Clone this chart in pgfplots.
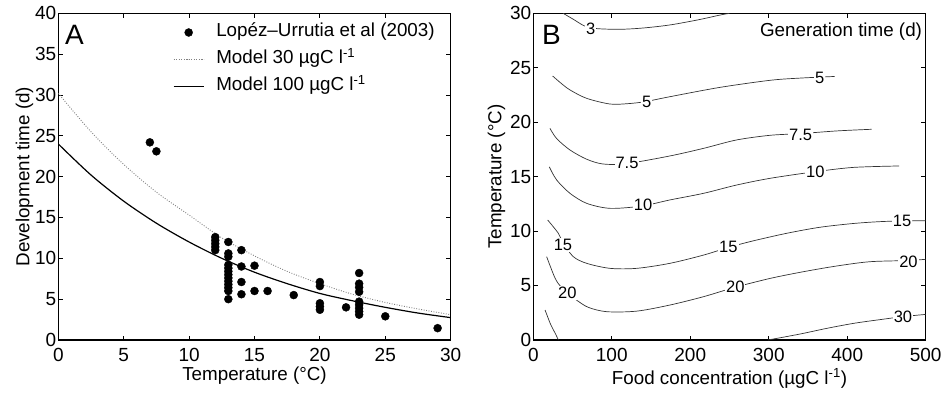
\documentclass[border=0pt]{standalone}
\usepackage{fontspec}
\setmainfont{Liberation Sans}
\usepackage{pgfplots}
\pgfplotsset{compat=1.18}

\pgfplotsset{
  panel/.style={
    scale only axis, width=392.4pt, height=326.7pt, anchor=south west,
    axis line style={line width=1.1pt},
    tick align=inside, major tick length=4.5pt,
    tick style={line width=0.9pt, black},
    /pgf/number format/assume math mode=true,
    every tick label/.append style={font=\fontsize{19}{22}\selectfont},
    yticklabel style={inner sep=0pt, xshift=-1.8pt},
    xticklabel style={inner sep=0pt, yshift=-8.5pt},
    every axis x label/.style={at={(axis description cs:0.5,0)}, anchor=base,
      inner sep=0pt, yshift=-40pt, font=\fontsize{18.8}{22}\selectfont},
    every axis y label/.style={at={(axis description cs:0,0.5)}, rotate=90,
      anchor=base, inner sep=0pt, font=\fontsize{18.8}{22}\selectfont},
  },
  contour/.style={black!80, line width=0.7pt, smooth, tension=0.5, mark=none},
}

\begin{document}
\begin{tikzpicture}
\useasboundingbox (0,0) rectangle (943pt,397pt);

% Panel A: development time against temperature
\begin{axis}[panel, at={(58.3pt,57pt)},
  xmin=0, xmax=30, ymin=0, ymax=40,
  xtick={0,5,...,30}, ytick={0,5,...,40},
  xlabel={Temperature (°C)},
  ylabel={Development time (d)},
  every axis y label/.append style={yshift=29pt},
  legend cell align=left,
  legend image code/.code={\draw[mark repeat=2,mark phase=2,#1]
    plot coordinates {(0pt,0pt) (15pt,0pt) (30pt,0pt)};},
  legend style={draw=none, fill=none, at={(rel axis cs:0.292,0.974)},
    anchor=north west, inner sep=0pt, row sep=6pt,
    font=\fontsize{18.8}{22}\selectfont,
    nodes={inner sep=1pt, text height=14pt, text depth=5pt},
    /tikz/every odd column/.append style={column sep=11pt}},
]
\addplot[only marks, mark=*, mark size=4pt, black] coordinates {
  (7,24.2) (7.5,23.1)
  (12,12.6) (12,12.2) (12,11.8) (12,11.4) (12,11.0)
  (13,12.0) (13,10.6) (13,10.2) (13,9.2) (13,8.8) (13,8.4) (13,8.0)
  (13,7.6) (13,7.2) (13,6.8) (13,6.4) (13,6.0) (13,5.0)
  (14,11.0) (14,9.0) (14,7.1) (14,5.6)
  (15,9.1) (15,6.0)
  (16,6.0)
  (18,5.5)
  (20,7.1) (20,6.6) (20,4.5) (20,4.1) (20,3.7)
  (22,4.0)
  (23,8.2) (23,6.9) (23,6.45) (23,5.9) (23,4.7) (23,4.3) (23,3.9) (23,3.5) (23,3.1)
  (25,2.9)
  (29,1.45)
};
\addlegendentry{Lopéz–Urrutia et al (2003)}
\addplot[gray, line width=0.9pt, dash pattern=on 0.9pt off 1.6pt, smooth] coordinates {
  (0,30.2) (2.5,25.5) (5,21.5) (7.5,18.1) (10,15.3) (12.5,12.5) (15,10.3)
  (17.5,8.4) (20,6.9) (22.5,5.6) (25,4.6) (27.5,3.8) (30,3.1)
};
\addlegendentry{Model 30 µgC l\textsuperscript{-1}}
\addplot[black, line width=1.2pt, smooth] coordinates {
  (0,24.0) (2.5,20.2) (5,17.0) (7.5,14.3) (10,12.0) (12.5,10.0) (15,8.3)
  (17.5,6.9) (20,5.7) (22.5,4.8) (25,4.0) (27.5,3.3) (30,2.74)
};
\addlegendentry{Model 100 µgC l\textsuperscript{-1}}
\node[anchor=north west, inner sep=0pt, font=\fontsize{28}{30}\selectfont]
  at (rel axis cs:0,1) [xshift=6.7pt, yshift=-11.7pt] {A};
\end{axis}

% Panel B: generation time contours over food concentration and temperature
\begin{axis}[panel, at={(533.3pt,57pt)},
  xmin=0, xmax=500, ymin=0, ymax=30,
  xtick={0,100,...,500}, ytick={0,5,...,30},
  xlabel={Food concentration (µgC l\smash{\textsuperscript{-1}})},
  every axis x label/.append style={yshift=-4pt},
  ylabel={Temperature (°C)},
  every axis y label/.append style={yshift=32pt},
  clip=true,
]
% 3 d
\addplot[contour] coordinates {(38,30) (51,29.45) (65,28.85) (80,28.6) (110,28.53)
  (140,28.65) (174,28.93) (210,29.4) (238,29.84) (250,30)};
% 5 d
\addplot[contour] coordinates {(24.7,24.24) (35,23.6) (46.8,22.96) (68,22.19)
  (97.7,21.67) (120,21.7) (142,21.88) (174,22.34) (238,23.2) (302,23.85)
  (340,24.05) (384,24.2)};
% 7.5 d
\addplot[contour] coordinates {(21.2,19.44) (29.7,18.5) (46.7,17.45) (68,16.6)
  (89,16.16) (119,16.2) (174,16.9) (217,17.6) (259,18.37) (302,18.8)
  (340,18.95) (387,19.2) (431,19.35)};
% 10 d
\addplot[contour] coordinates {(20.4,15.9) (29.7,14.7) (46.7,13.47) (68,12.55)
  (97.7,12.09) (138,12.3) (174,12.86) (217,13.47) (259,14.23) (302,14.85)
  (359,15.45) (408,15.85) (466,15.98)};
% 15 d
\addplot[contour] coordinates {(18.3,11.02) (31.9,9.8) (38,8.9) (51,7.65) (68,7.04)
  (97.7,6.58) (131.7,6.58) (174,7.04) (217,7.8) (248.5,8.5) (280,9.1)
  (323,9.8) (365,10.35) (408,10.7) (442,10.87) (470,10.93) (500,10.95)};
% 20 d
\addplot[contour] coordinates {(17,7.65) (27.6,5.7) (35,4.9) (45,4.2) (55,3.67)
  (70,3.0) (93.5,2.6) (131.7,2.65) (174,3.21) (217,3.98) (257,4.84)
  (302,5.66) (344,6.27) (387,6.8) (429,7.19) (478,7.3) (500,7.41)};
% 30 d
\addplot[contour] coordinates {(15,2.75) (22,1.45) (28,0.6) (32,0)};
\addplot[contour] coordinates {(299,0) (340,0.55) (374,1.07) (410,1.55)
  (450,1.95) (471,2.15) (500,2.35)};

\begin{scope}[every node/.style={fill=white, inner sep=1pt,
    font=\fontsize{16.5}{18}\selectfont}]
\node at (axis cs:73,28.53) {3};
\node at (axis cs:144.4,21.85) {5};
\node at (axis cs:365,24.06) {5};
\node at (axis cs:119.4,16.25) {7.5};
\node at (axis cs:340.7,18.8) {7.5};
\node at (axis cs:139.8,12.37) {10};
\node at (axis cs:359.4,15.4) {10};
\node at (axis cs:37.8,8.72) {15};
\node at (axis cs:248.5,8.57) {15};
\node at (axis cs:470,10.9) {15};
\node at (axis cs:43.3,4.29) {20};
\node at (axis cs:257.4,4.84) {20};
\node at (axis cs:478,7.19) {20};
\node at (axis cs:471,2.15) {30};
\end{scope}
\node[anchor=north west, inner sep=0pt, font=\fontsize{28}{30}\selectfont]
  at (rel axis cs:0,1) [xshift=8.5pt, yshift=-11.7pt] {B};
\node[anchor=base east, inner sep=0pt, font=\fontsize{18.8}{22}\selectfont]
  at (rel axis cs:1,1) [xshift=-3.5pt, yshift=-22.7pt] {Generation time (d)};
\end{axis}
\end{tikzpicture}
\end{document}
